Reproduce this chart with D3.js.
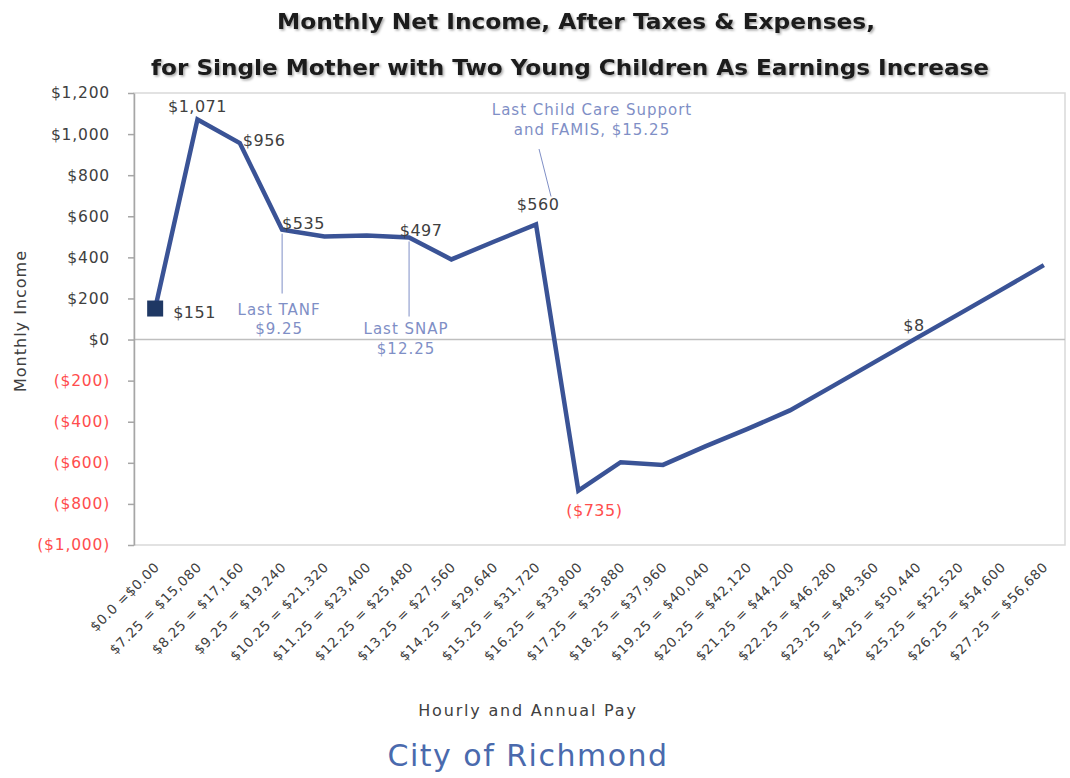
<!DOCTYPE html>
<html>
<head>
<meta charset="utf-8">
<script src="https://cdn.jsdelivr.net/npm/d3@7"></script>
<style>
  body { margin: 0; background: #fff; }
  svg { display: block; font-family: "DejaVu Sans", sans-serif; }
</style>
</head>
<body>
<svg id="chart" width="1070" height="778"></svg>
<script>
// hourly wage = annual pay, one label per category
const payLabels = [
  "$0.0 =$0.00", "$7.25 = $15,080", "$8.25 = $17,160", "$9.25 = $19,240",
  "$10.25 = $21,320", "$11.25 = $23,400", "$12.25 = $25,480", "$13.25 = $27,560",
  "$14.25 = $29,640", "$15.25 = $31,720", "$16.25 = $33,800", "$17.25 = $35,880",
  "$18.25 = $37,960", "$19.25 = $40,040", "$20.25 = $42,120", "$21.25 = $44,200",
  "$22.25 = $46,280", "$23.25 = $48,360", "$24.25 = $50,440", "$25.25 = $52,520",
  "$26.25 = $54,600", "$27.25 = $56,680"
];

// monthly net income for each pay level
const income = [
  151, 1071, 956, 535, 502, 506, 497, 390, 476, 560,
  -735, -597, -610, -520, -435, -345, -228, -110, 8, 125, 243, 362
];

const yTicks = [1200, 1000, 800, 600, 400, 200, 0, -200, -400, -600, -800, -1000];

// points that carry a value label
const labelled = [0, 1, 2, 3, 6, 9, 10, 18];

// benefit cliff notes
const notes = [
  { i: 3, lines: ["Last TANF", "$9.25"] },
  { i: 6, lines: ["Last SNAP", "$12.25"] },
  { i: 9, lines: ["Last Child Care Support", "and FAMIS, $15.25"] }
];

const svg = d3.select("#chart");
const width = +svg.attr("width");
const height = +svg.attr("height");
const margin = { top: 93, right: 5, bottom: 233, left: 134 };
const innerWidth = width - margin.left - margin.right;
const innerHeight = height - margin.top - margin.bottom;

const lineColor = "#3a5396";
const noteColor = "#7f8fc6";
const negColor = "#ff4d4d";
const textColor = "#404040";

const money = d3.format("$,.0f");
const fmt = v => v < 0 ? `(${money(-v)})` : money(v);

// --- Title ---
const defs = svg.append("defs");
const shadow = defs.append("filter").attr("id", "shadow")
  .attr("x", "-5%").attr("y", "-30%").attr("width", "110%").attr("height", "160%");
shadow.append("feDropShadow")
  .attr("dx", 1.5).attr("dy", 1.5).attr("stdDeviation", 1)
  .attr("flood-color", "#000").attr("flood-opacity", 0.35);

const titleLines = [
  { text: "Monthly Net Income, After Taxes & Expenses,", cx: 576, y: 29, len: 598 },
  { text: "for Single Mother with Two Young Children As Earnings Increase", cx: 570, y: 75, len: 838 }
];
svg.selectAll(".title")
  .data(titleLines)
  .enter()
  .append("text")
  .attr("class", "title")
  .attr("x", d => d.cx)
  .attr("y", d => d.y)
  .attr("text-anchor", "middle")
  .attr("textLength", d => d.len)
  .attr("lengthAdjust", "spacingAndGlyphs")
  .attr("filter", "url(#shadow)")
  .style("font-size", "21px")
  .style("font-weight", "bold")
  .style("fill", "#1a1a1a")
  .text(d => d.text);

const g = svg.append("g")
  .attr("transform", `translate(${margin.left},${margin.top})`);

// --- Scales ---
const x = d3.scaleBand()
  .domain(d3.range(income.length))
  .range([0, innerWidth]);

const y = d3.scaleLinear()
  .domain([-1000, 1200])
  .range([innerHeight, 0]);

const cx = i => x(i) + x.bandwidth() / 2;

// plot border
g.append("rect")
  .attr("width", innerWidth)
  .attr("height", innerHeight)
  .attr("fill", "none")
  .attr("stroke", "#d9d9d9")
  .attr("stroke-width", 1.5);

// zero line
g.append("line")
  .attr("x1", 0).attr("x2", innerWidth)
  .attr("y1", y(0)).attr("y2", y(0))
  .attr("stroke", "#bfbfbf")
  .attr("stroke-width", 1.5);

// --- Y axis ---
const yAxisG = g.append("g")
  .call(d3.axisLeft(y).tickValues(yTicks).tickFormat(fmt).tickSize(6).tickPadding(18).tickSizeOuter(0));
yAxisG.select(".domain").attr("stroke", "#a6a6a6").attr("stroke-width", 1.5);
yAxisG.selectAll(".tick line").attr("stroke", "#a6a6a6").attr("stroke-width", 1.5);
yAxisG.selectAll(".tick text")
  .style("font-size", "15.5px")
  .style("letter-spacing", "0.8px")
  .style("font-family", "DejaVu Sans, sans-serif")
  .attr("fill", d => d < 0 ? negColor : textColor);

// --- X tick labels ---
g.append("g")
  .selectAll("text")
  .data(payLabels)
  .enter()
  .append("text")
  .attr("transform", (d, i) => `translate(${cx(i) + 5},${innerHeight + 23}) rotate(-45)`)
  .attr("text-anchor", "end")
  .style("font-size", "13.5px")
  .style("letter-spacing", "0.6px")
  .style("fill", textColor)
  .text(d => d);

// --- Line ---
const line = d3.line()
  .x((d, i) => cx(i))
  .y(d => y(d));

g.append("path")
  .datum(income)
  .attr("fill", "none")
  .attr("stroke", lineColor)
  .attr("stroke-width", 4.5)
  .attr("stroke-linejoin", "miter")
  .attr("d", line);

// first point marker
g.append("rect")
  .attr("x", cx(0) - 8)
  .attr("y", y(income[0]) - 8)
  .attr("width", 16)
  .attr("height", 16)
  .attr("fill", "#1f3864");

// --- Value labels ---
const labelPlace = {
  0: { dx: 18, dy: 9, anchor: "start" },
  1: { dx: 0, dy: -8, anchor: "middle" },
  2: { dx: 3, dy: 3, anchor: "start" },
  3: { dx: 0, dy: -1, anchor: "start" },
  6: { dx: 12, dy: -1, anchor: "middle" },
  9: { dx: 2, dy: -14, anchor: "middle" },
  10: { dx: 16, dy: 25, anchor: "middle" },
  18: { dx: -3, dy: -7, anchor: "middle" }
};

g.selectAll(".val")
  .data(labelled)
  .enter()
  .append("text")
  .attr("class", "val")
  .attr("x", i => cx(i) + labelPlace[i].dx)
  .attr("y", i => y(income[i]) + labelPlace[i].dy)
  .attr("text-anchor", i => labelPlace[i].anchor)
  .style("font-size", "16px")
  .style("letter-spacing", "0.5px")
  .style("fill", i => income[i] < 0 ? negColor : textColor)
  .text(i => fmt(income[i]));

// --- Notes with leader lines ---
// y1 is relative to the point, y2 and text baselines are absolute in the plot
const notePlace = {
  3: { x1: 0, y1: 4, x2: 0, y2: y(0) - 46, tx: -3, ty: [y(0) - 25, y(0) - 6] },
  6: { x1: 0, y1: 4, x2: 0, y2: y(0) - 23, tx: -3, ty: [y(0) - 6, y(0) + 14] },
  9: { x1: 15, y1: -28, x2: 3, y2: 56, tx: 56, ty: [22, 42] }
};

notes.forEach(n => {
  const p = notePlace[n.i];
  const px = cx(n.i);
  const py = y(income[n.i]);
  g.append("line")
    .attr("x1", px + p.x1)
    .attr("y1", py + p.y1)
    .attr("x2", px + p.x2)
    .attr("y2", p.y2)
    .attr("stroke", noteColor)
    .attr("stroke-width", 1);

  n.lines.forEach((t, k) => {
    g.append("text")
      .attr("x", px + p.tx)
      .attr("y", p.ty[k])
      .attr("text-anchor", "middle")
      .style("font-size", "15px")
      .style("letter-spacing", "1px")
      .style("fill", noteColor)
      .text(t);
  });
});

// --- Axis titles ---
svg.append("text")
  .attr("transform", "translate(26,321) rotate(-90)")
  .attr("text-anchor", "middle")
  .style("font-size", "16px")
  .style("letter-spacing", "1px")
  .style("fill", textColor)
  .text("Monthly Income");

svg.append("text")
  .attr("x", 528)
  .attr("y", 716)
  .attr("text-anchor", "middle")
  .style("font-size", "16px")
  .style("letter-spacing", "1.8px")
  .style("fill", textColor)
  .text("Hourly and Annual Pay");

svg.append("text")
  .attr("x", 528)
  .attr("y", 766)
  .attr("text-anchor", "middle")
  .style("font-size", "30px")
  .style("letter-spacing", "1.5px")
  .style("fill", "#4a6aad")
  .text("City of Richmond");
</script>
</body>
</html>
